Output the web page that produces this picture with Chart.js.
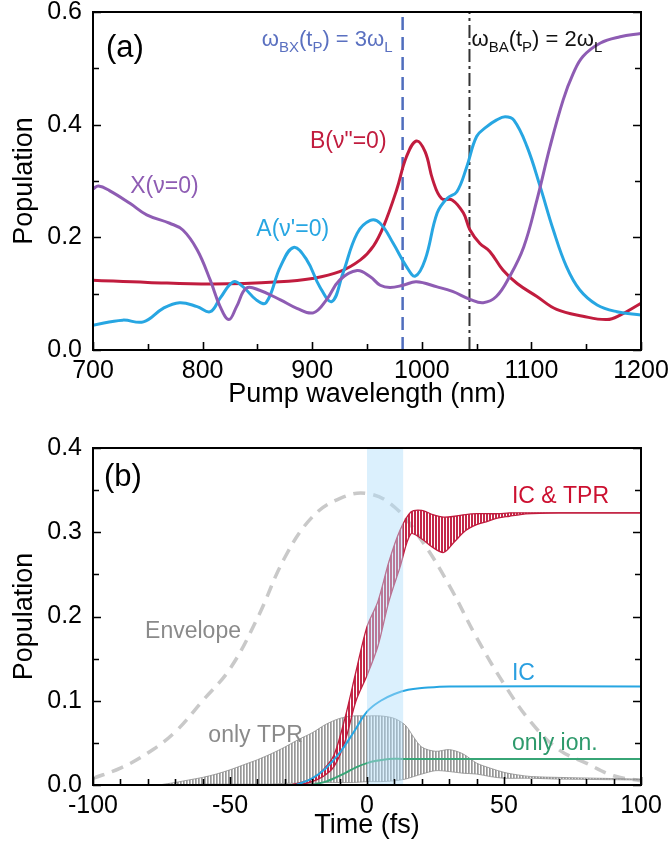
<!DOCTYPE html>
<html>
<head>
<meta charset="utf-8">
<script src="https://cdn.jsdelivr.net/npm/chart.js@4.4.1/dist/chart.umd.min.js"></script>
<style>
html,body{margin:0;padding:0;background:#fff;}
#wrap{position:relative;width:671px;height:857px;background:#fff;overflow:hidden;}
canvas{position:absolute;left:0;}
</style>
</head>
<body>
<div id="wrap">
<canvas id="c1" width="671" height="420" style="top:0px"></canvas>
<canvas id="c2" width="671" height="437" style="top:420px"></canvas>
</div>
<script>
// ---------- Panel (a): population vs pump wavelength ----------
const waveX = [700,705,715,734,749,770,782,795,807,816,824,831,840,852,871,886,901,913,925,941,953,962,971,983,995,1014,1028,1044,1056,1068,1080,1093,1105,1117,1129,1138,1147,1163,1181,1200];
const popX  = [0.286,0.291,0.283,0.26,0.24,0.225,0.213,0.178,0.124,0.077,0.054,0.077,0.11,0.106,0.089,0.074,0.066,0.089,0.124,0.141,0.13,0.115,0.111,0.115,0.121,0.112,0.104,0.09,0.084,0.095,0.13,0.183,0.266,0.361,0.444,0.49,0.521,0.545,0.556,0.562];

const waveB = [700,750,810,870,900,925,944,956,965,977,986,995,1003,1010,1018,1028,1038,1044,1053,1062,1074,1087,1105,1123,1147,1169,1181,1200];
const popB  = [0.124,0.12,0.117,0.121,0.127,0.139,0.16,0.185,0.219,0.284,0.343,0.371,0.352,0.302,0.269,0.266,0.243,0.213,0.189,0.175,0.142,0.118,0.095,0.072,0.06,0.054,0.062,0.083];

const waveA = [700,727,746,764,779,795,807,816,828,837,849,858,871,883,895,907,918,928,941,953,962,974,986,994,1003,1014,1023,1032,1041,1050,1059,1068,1076,1084,1096,1108,1120,1132,1144,1160,1178,1200];
const popA  = [0.044,0.053,0.05,0.074,0.084,0.077,0.068,0.092,0.121,0.112,0.089,0.084,0.148,0.182,0.16,0.112,0.086,0.136,0.207,0.23,0.225,0.189,0.148,0.131,0.16,0.243,0.269,0.281,0.325,0.379,0.396,0.408,0.414,0.408,0.361,0.29,0.213,0.148,0.107,0.08,0.068,0.062];

const resonanceBX = 982.5;   // omega_BX(tP) = 3 omega_L
const resonanceBA = 1043.5;  // omega_BA(tP) = 2 omega_L

const topXTickLabels = [700,800,900,1000,1100,1200];
const topYTickLabels = [0.0,0.2,0.4,0.6];

// ---------- Panel (b): population vs time ----------
const timeEnv  = [-100,-90,-80,-70,-60,-50,-40,-30,-20,-10,0,10,20,30,40,50,60,70,80,90,100];
const envelope = [0.008,0.02,0.038,0.063,0.1,0.138,0.198,0.27,0.318,0.34,0.346,0.33,0.29,0.237,0.175,0.12,0.074,0.042,0.026,0.011,0.005];

const timeRed  = [-28,-24,-20,-16,-12,-8,-4,0,4,8,12,16,20,24,28,32,36,40,44,48,52,56,60,70,100];
const redUpper = [0,0.003,0.008,0.018,0.036,0.08,0.135,0.188,0.218,0.265,0.302,0.324,0.326,0.321,0.318,0.319,0.321,0.322,0.322,0.322,0.323,0.323,0.323,0.323,0.323];
const redLower = [0,0.001,0.004,0.01,0.022,0.052,0.1,0.13,0.165,0.218,0.258,0.298,0.292,0.282,0.276,0.289,0.302,0.309,0.313,0.317,0.319,0.321,0.322,0.323,0.323];

const timeTPR  = [-76,-70,-65,-60,-55,-50,-45,-40,-35,-30,-25,-20,-15,-10,-5,0,5,10,14,17,20,25,30,35,40,45,50,55,60,70,100];
const tprUpper = [0,0.003,0.006,0.009,0.013,0.018,0.024,0.03,0.037,0.045,0.054,0.062,0.072,0.079,0.082,0.082,0.082,0.079,0.071,0.057,0.045,0.04,0.042,0.037,0.026,0.02,0.015,0.012,0.01,0.009,0.007];
const tprLower = [0,0,0,0.001,0.001,0.001,0.001,0.001,0.001,0.002,0.002,0.002,0.003,0.003,0.003,0.004,0.004,0.005,0.007,0.01,0.013,0.017,0.016,0.014,0.013,0.01,0.008,0.008,0.008,0.007,0.006];

const timeIC = [-26,-20,-15,-10,-5,0,5,10,15,20,30,100];
const popIC  = [0,0.008,0.02,0.038,0.062,0.087,0.1,0.108,0.113,0.115,0.117,0.117];

const timeIon = [-20,-15,-12,-8,-4,0,4,8,13,20,100];
const popIon  = [0,0.004,0.008,0.014,0.021,0.026,0.029,0.031,0.031,0.031,0.031];

const shadedWindow = [0, 13.2];

const botXTickLabels = [-100,-50,0,50,100];
const botYTickLabels = [0.0,0.1,0.2,0.3,0.4];

// ---------- styling ----------
const FONT = "'Liberation Sans', Arial, Helvetica, sans-serif";
const PURPLE = '#8e5cb3', RED = '#c11c3e', BLUE = '#27a6e2', GREEN = '#37a576';

const pts = (xs, ys) => xs.map((x, i) => ({x: x, y: ys[i]}));
const near = (v, arr) => arr.some(a => Math.abs(a - v) < 1e-6);

function stripePattern(color, period, w) {
  const c = document.createElement('canvas');
  c.width = period; c.height = 8;
  const g = c.getContext('2d');
  g.fillStyle = color;
  g.fillRect(0, 0, w, 8);
  return g.createPattern(c, 'repeat');
}

function framePlugin(opts) {
  return {
    id: 'frame' + opts.name,
    afterDatasetsDraw(chart) {
      const {ctx, chartArea: a, scales: {x, y}} = chart;
      ctx.save();
      if (opts.band) {
        const x0 = x.getPixelForValue(opts.band[0]);
        const x1 = x.getPixelForValue(opts.band[1]);
        ctx.fillStyle = 'rgba(176,222,250,0.45)';
        ctx.fillRect(x0, a.top, x1 - x0, a.bottom - a.top);
      }
      ctx.strokeStyle = '#000';
      ctx.lineWidth = 1.6;
      y.ticks.forEach(t => {
        const py = Math.round(y.getPixelForValue(t.value)) + 0.5;
        const L = near(t.value, opts.yMajor) ? 8 : 6;
        ctx.beginPath();
        ctx.moveTo(a.left, py); ctx.lineTo(a.left + L, py);
        ctx.moveTo(a.right, py); ctx.lineTo(a.right - L, py);
        ctx.stroke();
      });
      x.ticks.forEach(t => {
        const px = Math.round(x.getPixelForValue(t.value)) + 0.5;
        const L = near(t.value, opts.xMajor) ? 8 : 6;
        ctx.beginPath();
        ctx.moveTo(px, a.bottom); ctx.lineTo(px, a.bottom - L);
        ctx.stroke();
      });
      ctx.lineWidth = 2;
      ctx.strokeRect(a.left, a.top, a.right - a.left, a.bottom - a.top);
      ctx.restore();
    }
  };
}

function drawRich(ctx, parts, x, y, size, subSize, color) {
  ctx.fillStyle = color;
  ctx.textBaseline = 'alphabetic';
  ctx.textAlign = 'left';
  let cx = x;
  parts.forEach(p => {
    if (p.sub) {
      ctx.font = subSize + 'px ' + FONT;
      ctx.fillText(p.t, cx, y + size * 0.28);
    } else {
      ctx.font = size + 'px ' + FONT;
      ctx.fillText(p.t, cx, y);
    }
    cx += ctx.measureText(p.t).width;
  });
}

const topLabels = {
  id: 'topLabels',
  beforeDatasetsDraw(chart) {
    const {ctx, chartArea: a, scales: {x}} = chart;
    ctx.save();
    ctx.lineWidth = 2.5;
    ctx.strokeStyle = '#4f6dbd';
    ctx.setLineDash([13, 7]);
    let px = x.getPixelForValue(resonanceBX);
    ctx.beginPath(); ctx.moveTo(px, a.bottom); ctx.lineTo(px, a.top); ctx.stroke();
    ctx.strokeStyle = '#333';
    ctx.lineWidth = 2;
    ctx.setLineDash([13, 4, 3, 4]);
    px = x.getPixelForValue(resonanceBA);
    ctx.beginPath(); ctx.moveTo(px, a.bottom); ctx.lineTo(px, a.top); ctx.stroke();
    ctx.restore();
  },
  afterDraw(chart) {
    const {ctx, scales: {x, y}} = chart;
    ctx.save();
    const P = (vx, vy) => [x.getPixelForValue(vx), y.getPixelForValue(vy)];
    let [px, py] = P(710, 0.52);
    ctx.font = '31px ' + FONT; ctx.fillStyle = '#000'; ctx.textBaseline = 'alphabetic';
    ctx.fillText('(a)', px + 2, py);
    [px, py] = P(734, 0.279);
    ctx.font = '23px ' + FONT; ctx.fillStyle = PURPLE; ctx.fillText('X(\u03BD=0)', px, py);
    [px, py] = P(849, 0.2025);
    ctx.fillStyle = BLUE; ctx.fillText('A(\u03BD\'=0)', px, py);
    [px, py] = P(898, 0.359);
    ctx.fillStyle = RED; ctx.fillText('B(\u03BD"=0)', px, py);
    [px, py] = P(854, 0.54);
    drawRich(ctx, [{t:'\u03C9'},{t:'BX',sub:true},{t:'(t'},{t:'P',sub:true},{t:') = 3\u03C9'},{t:'L',sub:true}], px, py, 22, 15, '#5a70c0');
    [px, py] = P(resonanceBA, 0.54);
    drawRich(ctx, [{t:'\u03C9'},{t:'BA',sub:true},{t:'(t'},{t:'P',sub:true},{t:') = 2\u03C9'},{t:'L',sub:true}], px + 2, py, 22, 15, '#111');
    ctx.restore();
  }
};

const botLabels = {
  id: 'botLabels',
  afterDraw(chart) {
    const {ctx, scales: {x, y}} = chart;
    ctx.save();
    const P = (vx, vy) => [x.getPixelForValue(vx), y.getPixelForValue(vy)];
    ctx.textBaseline = 'alphabetic';
    let [px, py] = P(-100, 0.355);
    ctx.font = '31px ' + FONT; ctx.fillStyle = '#000';
    ctx.fillText('(b)', px + 11, py);
    ctx.font = '23px ' + FONT;
    [px, py] = P(52.9, 0.335); ctx.fillStyle = '#cc1030'; ctx.fillText('IC & TPR', px, py);
    [px, py] = P(52.9, 0.1246); ctx.fillStyle = '#2a9fe0'; ctx.fillText('IC', px, py);
    [px, py] = P(52.9, 0.0415); ctx.fillStyle = '#2e9a6c'; ctx.fillText('only ion.', px, py);
    [px, py] = P(-81, 0.174); ctx.fillStyle = '#8a8a8a'; ctx.fillText('Envelope', px, py);
    [px, py] = P(-57.9, 0.051); ctx.fillStyle = '#8a8a8a'; ctx.fillText('only TPR', px, py);
    ctx.restore();
  }
};

function axisCommon(min, max, step, labels, fmt) {
  return {
    type: 'linear', min: min, max: max,
    grid: {display: false, drawTicks: false},
    border: {display: false},
    ticks: {
      stepSize: step, autoSkip: false, maxRotation: 0, color: '#000',
      font: {family: FONT, size: 25},
      callback: v => near(v, labels) ? fmt(v) : ''
    }
  };
}
function fixX(h) { return s => { s.height = h; s.paddingLeft = 0; s.paddingRight = 0; }; }
function fixY(w) { return s => { s.width = w; s.paddingTop = 0; s.paddingBottom = 0; }; }

// ---------- Chart (a) ----------
const xa = axisCommon(700, 1200, 50, topXTickLabels, v => String(Math.round(v)));
xa.afterFit = fixX(70);
xa.ticks.padding = 6;
xa.title = {display: true, text: 'Pump wavelength (nm)', color: '#000', font: {family: FONT, size: 27, lineHeight: 1}, padding: {top: 0, bottom: 11.5}};
const ya = axisCommon(0, 0.6, 0.1, topYTickLabels, v => v.toFixed(1));
ya.afterFit = fixY(93);
ya.ticks.padding = 11;
ya.title = {display: true, text: 'Population', color: '#000', font: {family: FONT, size: 27, lineHeight: 1}, padding: {top: 11.5, bottom: 0}};

new Chart(document.getElementById('c1'), {
  type: 'line',
  data: {datasets: [
    {label: 'X(v=0)', data: pts(waveX, popX), borderColor: PURPLE, borderWidth: 3, tension: 0.4, pointRadius: 0, fill: false},
    {label: 'A(v\'=0)', data: pts(waveA, popA), borderColor: BLUE, borderWidth: 3, tension: 0.4, pointRadius: 0, fill: false},
    {label: 'B(v"=0)', data: pts(waveB, popB), borderColor: RED, borderWidth: 3, tension: 0.4, pointRadius: 0, fill: false}
  ]},
  options: {
    responsive: false, animation: false, devicePixelRatio: 1,
    layout: {padding: {left: 0, right: 30, top: 12, bottom: 0}},
    plugins: {legend: {display: false}, tooltip: {enabled: false}},
    scales: {x: xa, y: ya}
  },
  plugins: [topLabels, framePlugin({name: 'a', xMajor: topXTickLabels, yMajor: topYTickLabels})]
});

// ---------- Chart (b) ----------
const xb = axisCommon(-100, 100, 10, botXTickLabels, v => String(Math.round(v)));
xb.afterFit = fixX(72);
xb.ticks.padding = 6;
xb.title = {display: true, text: 'Time (fs)', color: '#000', font: {family: FONT, size: 27, lineHeight: 1}, padding: {top: 0, bottom: 17.5}};
const yb = axisCommon(0, 0.4, 0.05, botYTickLabels, v => v.toFixed(1));
yb.afterFit = fixY(93);
yb.ticks.padding = 11;
yb.title = {display: true, text: 'Population', color: '#000', font: {family: FONT, size: 27, lineHeight: 1}, padding: {top: 11.5, bottom: 0}};

const redFill = stripePattern('rgba(193,28,62,0.95)', 3, 2);
const grayFill = stripePattern('rgba(140,140,140,0.9)', 3, 1.7);

new Chart(document.getElementById('c2'), {
  type: 'line',
  data: {datasets: [
    {label: 'IC', data: pts(timeIC, popIC), borderColor: BLUE, borderWidth: 2, tension: 0.4, pointRadius: 0, fill: false},
    {label: 'only ion.', data: pts(timeIon, popIon), borderColor: GREEN, borderWidth: 2, tension: 0.4, pointRadius: 0, fill: false},
    {label: 'IC & TPR max', data: pts(timeRed, redUpper), borderColor: RED, borderWidth: 1.3, tension: 0.3, pointRadius: 0, fill: '+1', backgroundColor: redFill},
    {label: 'IC & TPR min', data: pts(timeRed, redLower), borderColor: RED, borderWidth: 1.3, tension: 0.3, pointRadius: 0, fill: false},
    {label: 'only TPR max', data: pts(timeTPR, tprUpper), borderColor: 'rgba(140,140,140,0.8)', borderWidth: 1, tension: 0.3, pointRadius: 0, fill: '+1', backgroundColor: grayFill},
    {label: 'only TPR min', data: pts(timeTPR, tprLower), borderColor: 'rgba(140,140,140,0.8)', borderWidth: 1, tension: 0.3, pointRadius: 0, fill: false},
    {label: 'Envelope', data: pts(timeEnv, envelope), borderColor: '#c9c9c9', borderWidth: 3.5, borderDash: [12, 8], tension: 0.4, pointRadius: 0, fill: false}
  ]},
  options: {
    responsive: false, animation: false, devicePixelRatio: 1,
    layout: {padding: {left: 0, right: 30, top: 28, bottom: 0}},
    plugins: {legend: {display: false}, tooltip: {enabled: false}},
    scales: {x: xb, y: yb}
  },
  plugins: [botLabels, framePlugin({name: 'b', band: shadedWindow, xMajor: botXTickLabels, yMajor: botYTickLabels})]
});
</script>
</body>
</html>
